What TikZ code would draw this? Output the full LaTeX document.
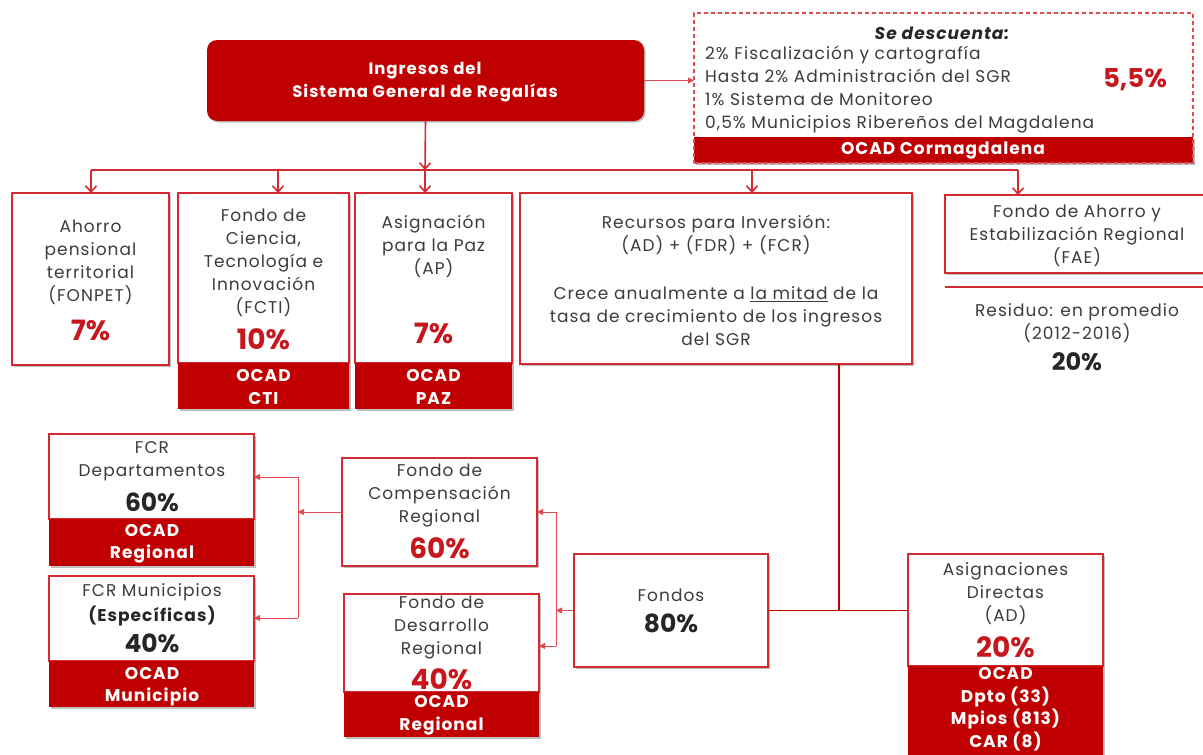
\documentclass[tikz,border=0pt]{standalone}
\usepackage{fontspec}
\setmainfont{Poppins}
\newfontfamily\wide{Poppins}[LetterSpace=6]
\usetikzlibrary{arrows.meta,shadows}
\definecolor{dred}{HTML}{C00000}
\definecolor{bred}{HTML}{D42A2F}
\definecolor{lred}{HTML}{E04A50}
\definecolor{txt}{HTML}{3C3C3C}
\definecolor{pred}{HTML}{C8161D}
\tikzset{
  shad/.style={drop shadow={shadow xshift=1.5pt,shadow yshift=-1.5pt,opacity=.25,fill=black}},
  box/.style={draw=bred, line width=1.6pt, fill=white, inner sep=0pt, outer sep=0pt, shad},
  bar/.style={fill=dred, draw=none, inner sep=0pt, outer sep=0pt, shad},
  mainbox/.style={fill=dred, draw=none, rounded corners=10pt, inner sep=0pt, outer sep=0pt, shad},
  dashbox/.style={draw=lred, line width=1.2pt, dash pattern=on 4pt off 3pt, inner sep=0pt, outer sep=0pt},
  t/.style={text=txt, align=center, font=\wide\fontsize{17}{23}\selectfont, inner sep=0pt},
  wt/.style={text=white, align=center, font=\wide\fontsize{17}{22.5}\selectfont\bfseries, inner sep=0pt},
  pct/.style={text=pred, font=\fontsize{28}{30}\selectfont\bfseries, inner sep=0pt},
  bpct/.style={text=black!85, font=\fontsize{25}{28}\selectfont\bfseries, inner sep=0pt},
  arr/.style={draw=bred, line width=1.6pt, -{Straight Barb[length=6pt,width=11pt]}},
  tarr/.style={draw=lred, line width=0.9pt, -{Triangle[length=6pt,width=6pt]}},
  thinl/.style={draw=lred, line width=0.9pt},
  cline/.style={draw=dred, line width=1.6pt}
}
\newcommand\mkbox[6][box]{\node[#1,minimum width={(#5-#3)*1pt},minimum height={(#6-#4)*1pt}] (#2) at ({(#3+#5)/2},{(#4+#6)/2}) {};}
\begin{document}
\begin{tikzpicture}[x=1pt,y=-1pt]
\useasboundingbox (0,0) rectangle (1203,755);
\fill[white] (0,0) rectangle (1203,755);

% top
\mkbox[mainbox]{main}{207}{40}{644}{121}
\node[wt,font=\wide\fontsize{16.5}{23.5}\selectfont\bfseries] (maint) at (425,82) {Ingresos del\\Sistema General de Regalías};
\mkbox[bar]{ocadc}{694}{137}{1193}{163}
\mkbox[dashbox]{desc}{694}{13}{1193}{163}
\node[t,text=black!85,font=\wide\fontsize{17}{23}\selectfont\bfseries\itshape] (sed) at (942,33) {Se descuenta:};
\node[t,anchor=west,align=left] (descl) at (705,90) {2\% Fiscalización y cartografía\\Hasta 2\% Administración del SGR\\1\% Sistema de Monitoreo\\0,5\% Municipios Ribereños del Magdalena};
\node[pct,font=\fontsize{26}{28}\selectfont\bfseries] (p55) at (1135,80) {5,5\%};
\node[wt] (ocadct) at (943,151) {OCAD Cormagdalena};
\draw[tarr] (main.east) -- (main.east -| desc.west);

% second row
\mkbox{fonpet}{12}{193}{169}{365}
\mkbox{fcti}{178}{193}{349}{363}
\mkbox[bar]{fctib}{178}{363}{349}{409}
\mkbox{ap}{355}{193}{512}{363}
\mkbox[bar]{apb}{355}{363}{512}{409}
\mkbox{rec}{520}{193}{912}{364}
\mkbox{fae}{945}{195}{1209}{273}
\draw[bred,line width=1.6pt] (945,287) -- (1209,287);

\node[t] (fonpett) at (90.5,262.5) {Ahorro\\pensional\\territorial\\(FONPET)};
\node[pct] (p7a) at (90.5,330) {7\%};
\node[t] (fctit) at (263.5,263) {Fondo de\\Ciencia,\\Tecnología e\\Innovación\\(FCTI)};
\node[pct] (p10) at (263.5,339) {10\%};
\node[wt] (fctibt) at (263.5,387) {OCAD\\CTI};
\node[t] (apt) at (433.5,246) {Asignación\\para la Paz\\(AP)};
\node[pct] (p7b) at (433.5,333) {7\%};
\node[wt] (apbt) at (433.5,387) {OCAD\\PAZ};
\node[t] (rect1) at (716,235) {Recursos para Inversión:\\(AD) + (FDR) + (FCR)};
\node[t] (rect2) at (716,316) {Crece anualmente a \underline{la mitad} de la\\tasa de crecimiento de los ingresos\\del SGR};
\node[t] (faet) at (1077,236) {Fondo de Ahorro y\\Estabilización Regional\\(FAE)};
\node[t] (resid) at (1077,323.5) {Residuo: en promedio\\(2012-2016)};
\node[bpct,font=\fontsize{24}{26}\selectfont\bfseries] (p20r) at (1077,362) {20\%};

% bus
\coordinate (b1) at (91,170);
\coordinate (b2) at (278,170);
\coordinate (b3) at (425,170);
\coordinate (b4) at (752,170);
\coordinate (b5) at (1018,170);
\draw[arr] (main.south) -- (b3);
\draw[bred,line width=1.6pt] (b1) -- (b5);
\draw[arr] (b1) -- (b1 |- fonpet.north);
\draw[arr] (b2) -- (b2 |- fcti.north);
\draw[arr] (b3) -- (b3 |- ap.north);
\draw[arr] (b4) -- (b4 |- rec.north);
\draw[arr] (b5) -- (b5 |- fae.north);

% lower
\mkbox{depto}{49}{434}{254}{519}
\mkbox[bar]{deptob}{49}{519}{254}{566}
\mkbox{mun}{49}{576}{254}{661}
\mkbox[bar]{munb}{49}{661}{254}{707}
\mkbox{fcr}{342}{458}{537}{566}
\mkbox{fdr}{344}{594}{539}{692}
\mkbox[bar]{fdrb}{344}{692}{539}{737}
\mkbox{fondos}{574}{554}{768}{667}
\mkbox{ad}{908}{554}{1103}{666}
\mkbox[bar]{adb}{908}{666}{1103}{765}

\node[t] (deptot) at (152,461.5) {FCR\\Departamentos};
\node[bpct] (p60d) at (152,502) {60\%};
\node[wt] (deptobt) at (152,544) {OCAD\\Regional};
\node[t] (munt) at (152,592) {FCR Municipios};
\node[t,text=black!85,font=\wide\fontsize{17}{23}\selectfont\bfseries] (espec) at (152,616) {(Específicas)};
\node[bpct] (p40m) at (152,643) {40\%};
\node[wt] (munbt) at (152,686.5) {OCAD\\Municipio};
\node[t] (fcrt) at (439.5,495) {Fondo de\\Compensación\\Regional};
\node[pct] (p60f) at (439.5,548) {60\%};
\node[t] (fdrt) at (441.5,627) {Fondo de\\Desarrollo\\Regional};
\node[pct] (p40f) at (441.5,679) {40\%};
\node[wt] (fdrbt) at (441.5,715.5) {OCAD\\Regional};
\node[t] (fondost) at (671,595) {Fondos};
\node[bpct] (p80) at (671,623) {80\%};
\node[t] (adt) at (1005.5,594) {Asignaciones\\Directas\\(AD)};
\node[pct] (p20a) at (1005.5,647) {20\%};
\node[wt] (adbt) at (1005.5,709) {OCAD\\Dpto (33)\\Mpios (813)\\CAR (8)};

% connectors lower
\coordinate (j) at (839,611);
\draw[cline] (rec.south -| j) -- (j);
\draw[cline] (fondos.east) -- (fondos.east -| ad.west);
\coordinate (v1) at (556,611);
\coordinate (v1a) at (556,512);
\coordinate (v1b) at (556,646);
\draw[tarr] (fondos.west) -- (fondos.west -| v1);
\draw[thinl] (v1a) -- (v1b);
\draw[tarr] (v1a) -- (v1a -| fcr.east);
\draw[tarr] (v1b) -- (v1b -| fdr.east);
\coordinate (v2) at (298,512);
\coordinate (v2a) at (298,477);
\coordinate (v2b) at (298,618);
\draw[tarr] (fcr.west) -- (fcr.west -| v2);
\draw[thinl] (v2a) -- (v2b);
\draw[tarr] (v2a) -- (v2a -| depto.east);
\draw[tarr] (v2b) -- (v2b -| mun.east);
\end{tikzpicture}
\end{document}
